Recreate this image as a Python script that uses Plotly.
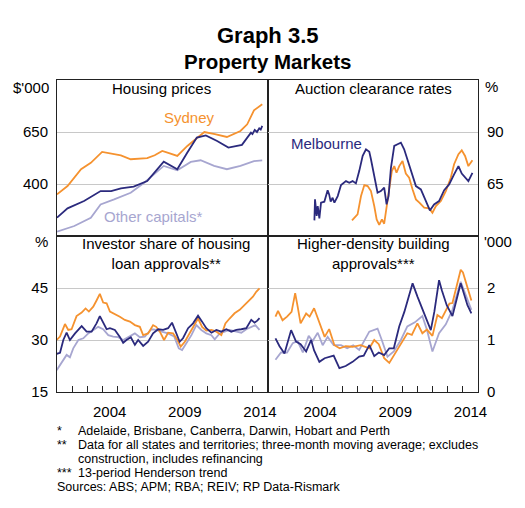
import plotly.graph_objects as go
from plotly.subplots import make_subplots

FONT = "Liberation Sans, Arial, sans-serif"
ORANGE = "#f5922f"
NAVY = "#2b2a7d"
LAVENDER = "#a7a6d0"
GRID = "#c8c8c8"

# Housing prices ($'000)
syd_price_yr = [2001.0, 2001.7, 2002.6, 2003.25, 2004.0, 2004.3, 2005.25, 2005.9, 2007.0, 2007.5,
                2008.0, 2008.5, 2009.0, 2009.67, 2010.8, 2011.5, 2012.3, 2013.2, 2013.65, 2014.1, 2014.65]
syd_price = [350, 390, 471, 502, 554, 550, 538, 519, 524, 538,
             559, 547, 535, 583, 650, 640, 626, 655, 687, 754, 783]
mel_price_yr = [2001.0, 2001.7, 2002.8, 2003.9, 2004.6, 2005.25, 2006.1, 2007.0, 2008.1, 2009.0,
                2009.67, 2010.3, 2010.9, 2011.65, 2012.4, 2013.3, 2013.9, 2014.0, 2014.15, 2014.3,
                2014.45, 2014.55, 2014.65]
mel_price = [238, 283, 318, 366, 366, 379, 387, 414, 507, 471,
             551, 623, 634, 607, 575, 588, 647, 640, 660, 650,
             668, 662, 679]
oth_price_yr = [2001.0, 2002.15, 2003.25, 2003.9, 2004.8, 2005.9, 2006.8, 2008.1, 2009.0, 2009.9,
                2010.55, 2011.45, 2012.3, 2013.2, 2014.1, 2014.65]
oth_price = [171, 198, 238, 302, 326, 358, 406, 487, 466, 506,
             514, 487, 471, 487, 510, 514]

# Auction clearance rates (%)
mel_auc_yr = [2004.12, 2004.16, 2004.27, 2004.34, 2004.45, 2004.56, 2004.78, 2004.89, 2005.0, 2005.1,
              2005.2, 2005.33, 2005.45, 2005.67, 2005.89, 2006.22, 2006.44, 2006.66, 2006.88, 2007.1,
              2007.33, 2007.55, 2007.77, 2007.88, 2008.1, 2008.32, 2008.54, 2008.76, 2008.92, 2009.05,
              2009.21, 2009.43, 2009.65, 2009.87, 2010.09, 2010.31, 2010.53, 2010.87, 2011.2, 2011.53,
              2011.8, 2012.08, 2012.41, 2012.75, 2013.08, 2013.41, 2013.7, 2013.92, 2014.19, 2014.36,
              2014.63]
mel_auc = [47.5, 57.6, 49.6, 54.4, 48.5, 56.0, 56.5, 59.2, 62.0, 60.0,
           56.5, 58.4, 56.0, 59.2, 64.5, 66.4, 65.6, 66.4, 65.3, 71.2,
           78.5, 81.7, 80.5, 76.9, 68.0, 60.8, 61.6, 63.2, 55.2, 59.2,
           72.8, 83.3, 84.1, 84.9, 81.7, 76.9, 71.2, 64.0, 62.4, 56.8,
           52.3, 55.2, 56.8, 62.0, 64.8, 69.6, 73.6, 70.0, 67.6, 66.4,
           70.4]
syd_auc_yr = [2006.62, 2006.77, 2006.99, 2007.22, 2007.44, 2007.66, 2007.88, 2008.1, 2008.26, 2008.43,
              2008.61, 2008.76, 2008.92, 2009.1, 2009.27, 2009.43, 2009.58, 2009.76, 2009.98, 2010.2,
              2010.42, 2010.65, 2010.87, 2011.1, 2011.42, 2011.75, 2011.97, 2012.2, 2012.53, 2012.86,
              2013.19, 2013.41, 2013.7, 2013.92, 2014.14, 2014.36, 2014.63]
syd_auc = [47.5, 48.5, 50.4, 59.2, 64.5, 64.0, 61.6, 54.4, 48.0, 45.3,
           48.0, 45.9, 53.6, 63.2, 71.2, 73.6, 70.4, 73.6, 76.1, 70.0,
           68.0, 62.4, 57.6, 56.0, 53.6, 53.3, 51.2, 54.4, 56.8, 61.6,
           68.0, 74.5, 79.3, 81.2, 78.5, 73.6, 76.4]

# Investor share of housing loan approvals (%)
syd_inv_yr = [2000.98, 2001.2, 2001.53, 2001.75, 2001.97, 2002.3, 2002.64, 2002.9, 2003.12, 2003.41,
              2003.63, 2003.85, 2004.07, 2004.3, 2004.52, 2004.85, 2005.18, 2005.51, 2005.85, 2006.18,
              2006.51, 2006.73, 2007.06, 2007.39, 2007.6, 2007.84, 2008.12, 2008.39, 2008.72, 2009.01,
              2009.23, 2009.5, 2009.83, 2010.16, 2010.38, 2010.65, 2010.93, 2011.27, 2011.6, 2011.93,
              2012.2, 2012.48, 2012.81, 2013.15, 2013.48, 2013.81, 2014.03, 2014.25, 2014.47]
syd_inv = [30.0, 31.0, 34.6, 32.9, 33.1, 36.9, 37.9, 39.1, 38.2, 39.6,
           41.4, 43.3, 40.8, 40.6, 38.2, 37.5, 36.7, 35.8, 35.3, 34.3,
           33.8, 31.4, 31.9, 34.3, 33.8, 32.4, 30.0, 32.1, 31.9, 30.0,
           28.1, 29.5, 31.9, 34.3, 36.2, 33.8, 32.7, 32.9, 32.4, 31.4,
           34.8, 36.2, 37.7, 38.7, 40.1, 41.5, 42.5, 43.9, 44.9]
mel_inv_yr = [2000.98, 2001.2, 2001.42, 2001.64, 2001.86, 2002.2, 2002.64, 2002.97, 2003.3, 2003.63,
              2003.85, 2004.07, 2004.3, 2004.52, 2004.85, 2005.18, 2005.4, 2005.62, 2005.91, 2006.18,
              2006.4, 2006.73, 2007.06, 2007.39, 2007.73, 2008.06, 2008.39, 2008.65, 2008.88, 2009.16,
              2009.38, 2009.72, 2010.05, 2010.38, 2010.65, 2010.93, 2011.27, 2011.6, 2011.93, 2012.26,
              2012.59, 2012.93, 2013.26, 2013.59, 2013.92, 2014.14, 2014.32, 2014.47]
mel_inv = [26.0, 26.3, 30.0, 32.1, 30.0, 31.9, 34.0, 32.4, 32.4, 34.8,
           36.9, 34.8, 33.1, 33.4, 32.9, 30.9, 29.2, 30.0, 30.8, 28.6,
           30.0, 28.3, 29.5, 31.9, 33.1, 32.9, 33.4, 35.0, 32.4, 29.5,
           30.5, 33.4, 34.8, 37.0, 35.3, 33.4, 32.1, 32.9, 32.4, 33.1,
           32.4, 32.9, 33.1, 33.4, 35.8, 35.0, 35.6, 36.3]
oth_inv_yr = [2000.98, 2001.2, 2001.42, 2001.64, 2001.86, 2002.08, 2002.42, 2002.75, 2003.08, 2003.41,
              2003.74, 2004.07, 2004.41, 2004.74, 2005.07, 2005.4, 2005.73, 2006.18, 2006.51, 2006.84,
              2007.28, 2007.6, 2007.95, 2008.39, 2008.79, 2009.1, 2009.32, 2009.61, 2009.94, 2010.27,
              2010.6, 2010.93, 2011.27, 2011.49, 2011.82, 2012.15, 2012.48, 2012.93, 2013.26, 2013.59,
              2013.92, 2014.19, 2014.47]
oth_inv = [21.3, 22.8, 24.2, 25.7, 25.0, 27.6, 30.0, 30.5, 31.9, 32.9,
           33.8, 33.1, 31.4, 31.0, 30.8, 30.0, 30.8, 31.9, 30.8, 31.0,
           33.1, 32.9, 32.4, 31.9, 31.0, 27.6, 27.1, 29.0, 31.4, 34.3,
           32.9, 31.9, 31.4, 30.2, 31.9, 32.4, 32.9, 32.4, 32.1, 33.1,
           33.8, 34.3, 32.9]

# Higher-density building approvals ('000)
syd_bld_yr = [2001.53, 2001.7, 2002.0, 2002.3, 2002.6, 2002.84, 2003.0, 2003.2, 2003.57, 2003.8,
              2004.1, 2004.45, 2004.8, 2005.1, 2005.45, 2005.8, 2006.2, 2006.66, 2007.2, 2007.77,
              2008.1, 2008.4, 2008.76, 2009.1, 2009.5, 2009.98, 2010.3, 2010.6, 2010.97, 2011.3,
              2011.6, 2011.97, 2012.3, 2012.6, 2012.86, 2013.1, 2013.3, 2013.85, 2014.0, 2014.3, 2014.56]
syd_bld = [1.45, 1.56, 1.38, 1.45, 1.54, 1.90, 1.65, 1.32, 1.51, 1.45,
           1.61, 1.32, 1.06, 1.21, 0.90, 0.84, 0.88, 0.87, 0.90, 0.84,
           1.00, 0.92, 0.65, 0.56, 0.75, 1.00, 1.13, 1.10, 1.32, 1.13,
           1.20, 1.08, 1.48, 1.42, 1.58, 1.70, 1.71, 2.35, 2.30, 2.03, 1.76]
mel_bld_yr = [2001.53, 2001.8, 2002.13, 2002.35, 2002.57, 2002.9, 2003.2, 2003.57, 2003.9, 2004.1,
              2004.45, 2004.8, 2005.1, 2005.4, 2005.78, 2006.2, 2006.66, 2007.1, 2007.4, 2007.77,
              2008.1, 2008.4, 2008.76, 2009.1, 2009.4, 2009.76, 2010.1, 2010.65, 2010.98, 2011.3,
              2011.86, 2012.1, 2012.41, 2012.6, 2012.92, 2013.3, 2013.85, 2014.0, 2014.3, 2014.56]
mel_bld = [1.03, 0.88, 0.74, 0.95, 1.19, 0.97, 0.92, 0.78, 1.00, 0.80,
           0.58, 0.65, 0.68, 0.70, 0.46, 0.50, 0.58, 0.68, 0.70, 0.90,
           0.69, 0.76, 0.71, 0.84, 0.84, 1.26, 1.54, 2.09, 1.83, 1.61,
           1.19, 1.55, 2.15, 1.95, 1.67, 1.46, 2.09, 1.95, 1.67, 1.51]
oth_bld_yr = [2001.53, 2001.9, 2002.3, 2002.68, 2003.0, 2003.35, 2003.74, 2004.0, 2004.34, 2004.67,
              2005.0, 2005.4, 2005.89, 2006.3, 2006.7, 2007.1, 2007.77, 2008.32, 2008.6, 2008.98,
              2009.4, 2009.87, 2010.3, 2010.8, 2011.3, 2011.6, 2011.97, 2012.41, 2012.86, 2013.3,
              2013.85, 2014.2, 2014.56]
oth_bld = [0.62, 0.76, 0.76, 0.94, 0.98, 0.76, 1.08, 0.98, 1.14, 0.90,
           1.06, 0.90, 0.90, 0.84, 0.90, 0.81, 1.16, 1.22, 1.00, 0.68,
           0.78, 1.00, 1.26, 1.34, 1.46, 1.20, 0.78, 1.13, 1.30, 1.58,
           2.12, 1.85, 1.58]

W, H = 525, 508
ML, MR, MT, MB = 57, 47, 80, 116


def px(x):
    return (x - ML) / (W - ML - MR)


def py(y):
    return (H - MB - y) / (H - MT - MB)


fig = make_subplots(rows=2, cols=2, horizontal_spacing=0, vertical_spacing=0)

series = [
    (syd_price_yr, syd_price, ORANGE, 1, 1),
    (oth_price_yr, oth_price, LAVENDER, 1, 1),
    (mel_price_yr, mel_price, NAVY, 1, 1),
    (syd_auc_yr, syd_auc, ORANGE, 1, 2),
    (mel_auc_yr, mel_auc, NAVY, 1, 2),
    (oth_inv_yr, oth_inv, LAVENDER, 2, 1),
    (syd_inv_yr, syd_inv, ORANGE, 2, 1),
    (mel_inv_yr, mel_inv, NAVY, 2, 1),
    (oth_bld_yr, oth_bld, LAVENDER, 2, 2),
    (syd_bld_yr, syd_bld, ORANGE, 2, 2),
    (mel_bld_yr, mel_bld, NAVY, 2, 2),
]
for xs, ys, color, r, c in series:
    fig.add_trace(go.Scatter(x=xs, y=ys, mode="lines", line=dict(color=color, width=1.8),
                             showlegend=False, hoverinfo="skip"), row=r, col=c)

frame = dict(showline=True, mirror=True, linecolor="#222", linewidth=1, zeroline=False)
fig.update_xaxes(range=[2001, 2015], showgrid=False, ticks="", **frame)
fig.update_xaxes(showticklabels=False, row=1)
fig.update_xaxes(tickmode="array", tickvals=[2004.5, 2009.5, 2014.5], ticktext=["2004", "2009", "2014"],
                 ticklabelstandoff=6,
                 minor=dict(tickmode="array", tickvals=list(range(2002, 2015)), ticks="inside",
                            ticklen=6, tickcolor="#222", tickwidth=1, showgrid=False),
                 row=2)
fig.update_yaxes(showgrid=True, gridcolor=GRID, gridwidth=1, ticks="", ticklabelstandoff=5, **frame)
fig.update_yaxes(range=[150, 900], tickvals=[400, 650], row=1, col=1)
fig.update_yaxes(range=[40, 115], tickvals=[65, 90], side="right", row=1, col=2)
fig.update_yaxes(range=[15, 60], tickvals=[15, 30, 45], row=2, col=1)
fig.update_yaxes(range=[0, 3], tickvals=[0, 1, 2], side="right", row=2, col=2)

ann = []


def note(text, x, y, size=15, color="black", xanchor="center", align="center"):
    ann.append(dict(text=text, x=px(x), y=py(y), xref="paper", yref="paper", showarrow=False,
                    xanchor=xanchor, yanchor="middle", align=align,
                    font=dict(size=size, color=color, family=FONT)))


note("<b>Graph 3.5</b>", 267, 35, size=22)
note("<b>Property Markets</b>", 267, 62, size=20.5)
note("Housing prices", 161, 88)
note("Auction clearance rates", 373, 88)
note("Investor share of housing<br>loan approvals**", 166, 253)
note("Higher-density building<br>approvals***", 373, 253)
note("$'000", 51, 87, xanchor="right")
note("%", 483, 86, xanchor="left")
note("%", 50, 242, xanchor="right")
note("'000", 482, 242, xanchor="left")
note("Sydney", 189, 117, color=ORANGE)
note("Melbourne", 326, 143, color=NAVY)
note("Other capitals*", 153, 216, color=LAVENDER)

foot = [
    ("*", "Adelaide, Brisbane, Canberra, Darwin, Hobart and Perth", 431),
    ("**", "Data for all states and territories; three-month moving average; excludes", 445),
    ("", "construction, includes refinancing", 459),
    ("***", "13-period Henderson trend", 473),
]
for mark, text, y in foot:
    if mark:
        note(mark, 55, y, size=12.5, xanchor="left", align="left")
    note(text, 76, y, size=12.5, xanchor="left", align="left")
note("Sources: ABS; APM; RBA; REIV; RP Data-Rismark", 55, 487, size=12.5, xanchor="left", align="left")

fig.update_layout(
    width=W, height=H,
    margin=dict(l=ML, r=MR, t=MT, b=MB),
    paper_bgcolor="white", plot_bgcolor="white",
    font=dict(family=FONT, size=15, color="black"),
    annotations=ann,
    hovermode=False,
)

# drop the page's default body margin so the figure sits at the window corner
fig.write_html("out.html", config={"displayModeBar": False},
               post_script="document.body.style.margin = '0';")
